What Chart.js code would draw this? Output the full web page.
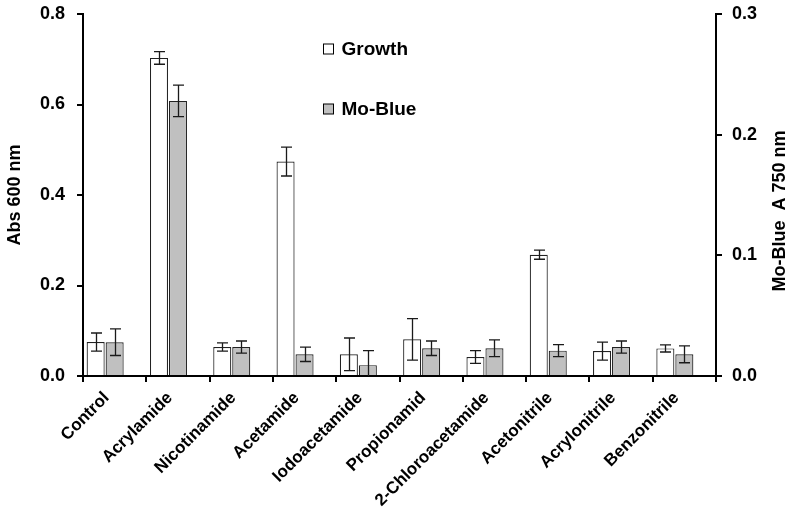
<!DOCTYPE html>
<html>
<head>
<meta charset="utf-8">
<script src="https://cdn.jsdelivr.net/npm/chart.js@4/dist/chart.umd.min.js"></script>
<style>
  html, body { margin: 0; padding: 0; background: #fff; }
  #wrap { width: 789px; height: 511px; }
</style>
</head>
<body>
<div id="wrap"><canvas id="c" width="789" height="511"></canvas></div>
<script>
// Substrates tested
const categories = ['Control', 'Acrylamide', 'Nicotinamide', 'Acetamide', 'Iodoacetamide',
  'Propionamid', '2-Chloroacetamide', 'Acetonitrile', 'Acrylonitrile', 'Benzonitrile'];

// Growth (Abs 600 nm, left axis) and its error
const growth    = [0.075, 0.703, 0.064, 0.474, 0.048, 0.081, 0.042, 0.268, 0.055, 0.061];
const growthErr = [0.020, 0.014, 0.009, 0.032, 0.036, 0.046, 0.014, 0.010, 0.020, 0.008];

// Mo-Blue (A 750 nm, right axis) and its error
const moBlue    = [0.028, 0.228, 0.024, 0.018, 0.009, 0.023, 0.023, 0.021, 0.024, 0.018];
const moBlueErr = [0.011, 0.013, 0.005, 0.006, 0.012, 0.006, 0.007, 0.005, 0.005, 0.007];

// Axis ticks
const leftTicks  = [0, 0.2, 0.4, 0.6, 0.8];
const rightTicks = [0, 0.1, 0.2, 0.3];

const FONT = 'Liberation Sans, Arial, Helvetica, sans-serif';
const errors = [growthErr, moBlueErr];

// Error bars drawn on top of each bar from value ± error
const errorBars = {
  id: 'errorBars',
  afterDatasetsDraw(chart) {
    const ctx = chart.ctx;
    const area = chart.chartArea;
    ctx.save();
    ctx.beginPath();
    ctx.rect(area.left, area.top - 20, area.right - area.left, area.bottom - area.top + 20);
    ctx.clip();
    ctx.strokeStyle = '#1a1a1a';
    ctx.lineWidth = 1.3;
    [0, 1].forEach(di => {
      const ds = chart.data.datasets[di];
      const scale = chart.scales[ds.yAxisID];
      const meta = chart.getDatasetMeta(di);
      meta.data.forEach((bar, i) => {
        const v = ds.data[i], e = errors[di][i];
        const yHi = scale.getPixelForValue(v + e);
        const yLo = scale.getPixelForValue(v - e);
        const x = Math.round(bar.x) + 0.5;
        const cap = 5.5;
        ctx.beginPath();
        ctx.moveTo(x, yHi); ctx.lineTo(x, yLo);
        ctx.moveTo(x - cap, yHi); ctx.lineTo(x + cap, yHi);
        ctx.moveTo(x - cap, yLo); ctx.lineTo(x + cap, yLo);
        ctx.stroke();
      });
    });
    ctx.restore();
  }
};

// Legend inside the plot and the right axis title (reads bottom to top)
const annotations = {
  id: 'annotations',
  afterDraw(chart) {
    const ctx = chart.ctx;
    const a = chart.chartArea;
    ctx.save();
    const items = [
      { label: 'Growth', fill: '#ffffff', y: a.top + 35 },
      { label: 'Mo-Blue', fill: '#c0c0c0', y: a.top + 95 }
    ];
    items.forEach(it => {
      const bx = a.left + 240.5;
      ctx.fillStyle = it.fill;
      ctx.fillRect(bx, it.y - 5, 10, 10);
      ctx.strokeStyle = '#000';
      ctx.lineWidth = 1;
      ctx.strokeRect(bx, it.y - 5, 10, 10);
      ctx.fillStyle = '#000';
      ctx.font = 'bold 19px ' + FONT;
      ctx.textAlign = 'left';
      ctx.textBaseline = 'middle';
      ctx.fillText(it.label, bx + 18, it.y + 1);
    });
    ctx.translate(780, 211);
    ctx.rotate(-Math.PI / 2);
    ctx.font = 'bold 18px ' + FONT;
    ctx.textAlign = 'center';
    ctx.textBaseline = 'middle';
    ctx.fillText('Mo-Blue  A 750 nm', 0, 0);
    ctx.restore();
  }
};

const axisGrid = { drawOnChartArea: false, drawTicks: true, color: '#000', lineWidth: 2 };

// Fixed axis box sizes so the plot area sits at the same place every time
function fixVertical(width) {
  return s => { s.width = width; s.paddingTop = 0; s.paddingBottom = 0; };
}

new Chart(document.getElementById('c'), {
  type: 'bar',
  data: {
    labels: categories,
    datasets: [
      { label: 'Growth', data: growth, yAxisID: 'y', backgroundColor: '#ffffff',
        borderColor: '#222', borderWidth: 1.2, categoryPercentage: 0.9, barPercentage: 0.95 },
      { label: 'Mo-Blue', data: moBlue, yAxisID: 'y1', backgroundColor: '#c0c0c0',
        borderColor: '#222', borderWidth: 1.2, categoryPercentage: 0.9, barPercentage: 0.95 },
      // empty third slot keeps each pair on the left of its category
      { label: '', data: categories.map(() => null), yAxisID: 'y',
        categoryPercentage: 0.9, barPercentage: 0.95 }
    ]
  },
  options: {
    responsive: false,
    animation: false,
    events: [],
    layout: { padding: { top: 14, left: 0, right: 0, bottom: 0 } },
    plugins: { legend: { display: false }, tooltip: { enabled: false } },
    scales: {
      x: {
        grid: Object.assign({ offset: true, tickLength: 6 }, axisGrid),
        border: { display: true, color: '#000', width: 2 },
        ticks: { color: '#000', font: { family: FONT, size: 17, weight: 'bold' },
          minRotation: 45, maxRotation: 45, autoSkip: false, labelOffset: -8, padding: 6 },
        afterFit(s) { s.height = 135; s.paddingLeft = 0; s.paddingRight = 0; }
      },
      y: {
        position: 'left', min: 0, max: 0.8,
        afterBuildTicks(s) { s.ticks = leftTicks.map(v => ({ value: v })); },
        grid: Object.assign({ tickLength: 6 }, axisGrid),
        border: { display: true, color: '#000', width: 2 },
        ticks: { color: '#000', font: { family: FONT, size: 18, weight: 'bold' }, padding: 12,
          callback: v => Number(v).toFixed(1) },
        title: { display: true, text: 'Abs 600 nm', color: '#000',
          font: { family: FONT, size: 18, weight: 'bold' }, padding: { top: 4, bottom: 0 } },
        afterFit: fixVertical(83)
      },
      y1: {
        position: 'right', min: 0, max: 0.3,
        afterBuildTicks(s) { s.ticks = rightTicks.map(v => ({ value: v })); },
        grid: Object.assign({ tickLength: 6 }, axisGrid),
        border: { display: true, color: '#000', width: 2 },
        ticks: { color: '#000', font: { family: FONT, size: 18, weight: 'bold' }, padding: 10,
          callback: v => Number(v).toFixed(1) },
        afterFit: fixVertical(73)
      }
    }
  },
  plugins: [errorBars, annotations]
});
</script>
</body>
</html>
